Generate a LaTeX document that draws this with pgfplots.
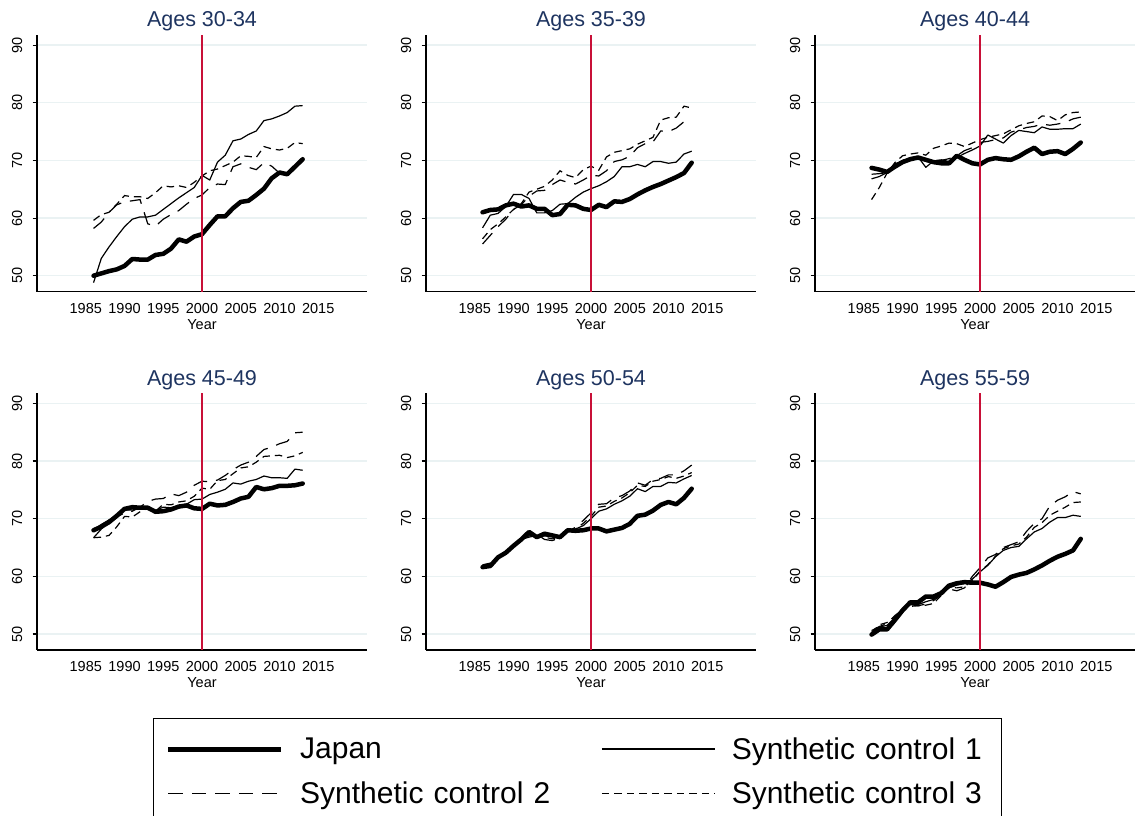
\documentclass[border=0pt]{standalone}
\usepackage{fontspec}
\setmainfont{Liberation Sans}
\usepackage{pgfplots}
\usepackage{pgfplotstable}
\pgfplotsset{compat=1.18}

\definecolor{gridc}{RGB}{234,242,243}
\definecolor{titlec}{RGB}{30,52,96}
\definecolor{redc}{RGB}{200,16,56}

% year, Japan, synthetic controls 1-3
\pgfplotstableread{
year jp sc1 sc2 sc3
1986 50.0 48.8 58.2 59.6
1987 50.4 53.0 59.3 60.6
1988 50.8 55.0 61.0 61.0
1989 51.1 56.8 62.3 62.4
1990 51.7 58.5 62.8 63.9
1991 52.9 59.8 63.0 63.7
1992 52.8 60.2 63.2 63.7
1993 52.8 60.2 59.0 63.4
1994 53.6 60.5 58.6 64.4
1995 53.8 61.5 59.8 65.6
1996 54.7 62.5 60.6 65.4
1997 56.3 63.5 61.3 65.6
1998 55.9 64.4 62.4 65.3
1999 56.8 65.3 63.4 66.2
2000 57.2 67.4 64.0 67.3
2001 58.8 66.6 65.3 68.2
2002 60.3 69.7 65.9 68.5
2003 60.3 70.9 65.8 69.1
2004 61.7 73.4 68.9 69.7
2005 62.8 73.7 69.4 70.8
2006 63.0 74.5 68.8 70.7
2007 64.0 75.1 68.4 70.5
2008 65.1 76.9 69.6 72.4
2009 66.9 77.2 69.0 72.0
2010 67.9 77.7 67.8 71.8
2011 67.6 78.3 67.6 72.1
2012 68.9 79.4 68.8 73.1
2013 70.2 79.5 70.0 72.9
}\tabA

\pgfplotstableread{
year jp sc1 sc2 sc3
1986 61.0 58.3 55.5 56.4
1987 61.4 60.5 57.0 58.0
1988 61.5 60.8 58.5 59.0
1989 62.2 62.0 59.8 60.2
1990 62.5 64.1 61.5 61.5
1991 62.0 64.1 62.3 62.5
1992 62.2 63.4 63.8 64.5
1993 61.6 60.9 64.7 65.0
1994 61.6 60.9 64.8 65.5
1995 60.5 61.3 65.8 66.6
1996 60.7 62.4 66.6 68.2
1997 62.3 62.5 66.2 67.4
1998 62.2 63.6 65.9 67.0
1999 61.6 64.5 66.6 68.4
2000 61.4 65.1 67.4 69.0
2001 62.3 65.6 67.3 68.3
2002 61.9 66.3 68.2 70.6
2003 62.9 67.2 69.8 71.4
2004 62.8 68.9 70.1 71.7
2005 63.3 68.9 70.7 72.0
2006 64.1 69.3 72.2 72.8
2007 64.8 68.9 72.9 73.4
2008 65.4 69.8 73.2 74.0
2009 65.9 69.8 75.1 77.0
2010 66.5 69.5 75.0 77.4
2011 67.1 69.7 75.6 77.5
2012 67.8 71.1 76.7 79.4
2013 69.6 71.6 76.4 79.1
}\tabB

\pgfplotstableread{
year jp sc1 sc2 sc3
1986 68.7 66.8 67.6 63.2
1987 68.4 67.2 67.7 65.3
1988 68.0 67.9 67.9 67.8
1989 68.9 69.4 69.2 69.6
1990 69.7 69.9 70.0 70.8
1991 70.2 70.5 70.5 71.1
1992 70.5 70.6 70.7 71.3
1993 70.1 68.8 70.2 70.9
1994 69.7 69.9 70.0 72.1
1995 69.5 70.1 70.0 72.5
1996 69.5 69.8 70.3 73.0
1997 70.8 70.5 70.8 72.9
1998 70.1 71.2 71.7 72.4
1999 69.5 71.8 72.2 73.0
2000 69.3 72.5 73.1 73.6
2001 70.1 74.4 73.3 74.0
2002 70.4 73.7 73.6 74.3
2003 70.2 73.0 73.9 74.6
2004 70.1 74.3 74.9 75.3
2005 70.7 75.2 75.3 76.0
2006 71.5 75.0 75.7 76.4
2007 72.2 74.8 75.9 76.7
2008 71.1 75.8 76.3 77.7
2009 71.5 75.4 76.1 77.6
2010 71.6 75.4 76.3 76.9
2011 71.1 75.5 76.6 77.9
2012 72.0 75.5 77.2 78.3
2013 73.1 76.3 77.5 78.4
}\tabC

\pgfplotstableread{
year jp sc1 sc2 sc3
1986 68.0 68.1 66.7 66.7
1987 68.6 69.0 68.2 66.8
1988 69.4 69.8 69.5 67.1
1989 70.5 70.5 70.3 68.6
1990 71.7 71.5 71.0 70.4
1991 72.0 71.5 71.3 70.3
1992 71.9 71.8 72.0 71.2
1993 71.9 71.8 73.0 71.8
1994 71.2 71.4 73.4 71.3
1995 71.3 72.0 73.5 72.5
1996 71.6 71.9 74.3 72.4
1997 72.1 72.2 74.0 72.9
1998 72.3 72.5 74.6 73.1
1999 71.8 73.3 75.8 73.9
2000 71.7 73.4 76.5 75.3
2001 72.6 74.2 76.4 75.1
2002 72.3 74.6 76.7 76.6
2003 72.4 75.1 77.5 76.8
2004 72.9 76.2 78.5 77.8
2005 73.5 76.0 79.3 78.8
2006 73.8 76.5 79.8 79.0
2007 75.5 76.8 80.8 79.8
2008 75.1 77.4 82.0 80.8
2009 75.3 77.1 82.4 80.9
2010 75.7 77.1 83.0 81.0
2011 75.7 77.0 83.4 80.6
2012 75.8 78.6 84.9 80.9
2013 76.1 78.4 85.0 81.5
}\tabD

\pgfplotstableread{
year jp sc1 sc2 sc3
1986 61.6 61.9 61.5 62.0
1987 61.8 62.2 62.0 62.3
1988 63.3 63.3 63.3 63.4
1989 64.1 64.3 64.3 64.2
1990 65.3 65.4 65.4 65.3
1991 66.4 66.4 66.5 66.6
1992 67.7 66.8 67.0 67.2
1993 66.8 67.1 67.3 67.0
1994 67.4 67.0 66.4 66.8
1995 67.1 66.9 66.2 66.5
1996 66.8 66.7 66.7 66.6
1997 68.0 67.9 67.8 67.7
1998 67.9 68.2 68.5 68.2
1999 68.0 68.8 69.7 69.2
2000 68.3 70.0 71.0 70.4
2001 68.3 71.3 72.5 72.0
2002 67.8 71.7 72.6 72.2
2003 68.1 72.5 73.6 73.0
2004 68.4 73.1 74.0 73.6
2005 69.1 73.9 74.8 74.5
2006 70.5 75.2 76.2 75.8
2007 70.7 74.7 75.8 75.6
2008 71.4 75.6 76.8 76.5
2009 72.4 75.6 77.0 76.8
2010 72.9 76.3 77.6 77.3
2011 72.5 76.2 77.6 77.0
2012 73.6 76.9 78.3 77.4
2013 75.2 77.5 79.3 78.0
}\tabE

\pgfplotstableread{
year jp sc1 sc2 sc3
1986 49.9 50.3 50.6 50.2
1987 50.8 51.2 51.3 51.6
1988 50.8 51.5 51.8 52.0
1989 52.4 52.8 53.2 53.0
1990 54.1 54.0 54.2 54.4
1991 55.5 55.2 55.1 54.8
1992 55.5 55.1 54.9 54.9
1993 56.5 55.6 55.2 55.0
1994 56.5 56.0 55.8 55.3
1995 57.1 57.0 56.8 56.7
1996 58.4 58.0 57.8 58.1
1997 58.8 58.5 57.5 58.0
1998 59.0 58.8 58.0 58.2
1999 58.9 59.5 60.0 59.3
2000 58.9 60.8 61.5 60.9
2001 58.6 61.9 63.2 62.0
2002 58.2 63.4 63.8 63.5
2003 59.0 64.5 65.0 64.8
2004 59.9 65.0 65.5 65.3
2005 60.3 65.2 66.0 65.6
2006 60.6 66.5 67.8 66.8
2007 61.2 67.7 69.2 68.5
2008 61.9 68.3 70.0 69.3
2009 62.7 69.4 72.2 70.6
2010 63.4 70.2 73.2 71.3
2011 63.9 70.2 73.8 72.0
2012 64.5 70.6 74.7 72.8
2013 66.5 70.4 74.3 72.9
}\tabF

\tikzset{
  jp/.style={black, line width=4.5pt, line join=round, line cap=round},
  sc1/.style={black, line width=1.2pt, line join=round},
  sc2/.style={black, line width=1.2pt, dash pattern=on 14.5pt off 9pt},
  sc3/.style={black, line width=1.2pt, dash pattern=on 7.5pt off 5pt},
}

\pgfplotsset{
  panel/.style={
    scale only axis, width=330pt, height=256.6pt,
    xmin=1978.7, xmax=2021.3, ymin=47.23, ymax=91.73,
    axis x line*=bottom, axis y line*=left,
    axis line style={-, black, line width=1.2pt},
    xtick={1985,1990,...,2015}, ytick={50,60,...,90},
    x tick style={draw=none}, y tick style={black, line width=1.1pt},
    tick align=outside, major tick length=4.5pt,
    ymajorgrids, major grid style={gridc, line width=1.4pt},
    tick label style={font=\fontsize{14.5}{16}\selectfont},
    /pgf/number format/assume math mode=true,
    /pgf/number format/1000 sep={},
    xticklabel style={anchor=north, inner sep=0pt},
    xticklabel shift=7pt,
    yticklabel style={rotate=90, anchor=south, inner sep=0pt},
    yticklabel shift=10pt,
    xlabel={Year},
    xlabel style={font=\fontsize{14.5}{17}\selectfont, at={(axis description cs:0.5,0)},
      anchor=base, inner sep=0pt, yshift=-37.8pt},
    title style={font=\fontsize{21.5}{25}\selectfont, color=titlec,
      at={(axis description cs:0.5,1)}, anchor=base, inner sep=0pt, yshift=2.3pt},
  },
}

\newcommand\panel[4]{%
  \begin{axis}[panel, at={#1}, anchor=south west, title={#2}, #4]
    \addplot[sc3] table[x=year, y=sc3] {#3};
    \addplot[sc2] table[x=year, y=sc2] {#3};
    \addplot[sc1] table[x=year, y=sc1] {#3};
    \addplot[jp] table[x=year, y=jp] {#3};
    \addplot[redc, line width=1.3pt] coordinates {(2000,47.23) (2000,91.73)};
  \end{axis}}

\begin{document}
\begin{tikzpicture}
\useasboundingbox (0,0) rectangle (1135pt,816pt);

\panel{(37pt,524.3pt)}{Ages 30-34}{\tabA}{}
\panel{(426pt,524.3pt)}{Ages 35-39}{\tabB}{}
\panel{(815pt,524.3pt)}{Ages 40-44}{\tabC}{width=320pt, xmax=2020.0}
\panel{(37pt,166pt)}{Ages 45-49}{\tabD}{}
\panel{(426pt,166pt)}{Ages 50-54}{\tabE}{}
\panel{(815pt,166pt)}{Ages 55-59}{\tabF}{width=320pt, xmax=2020.0}

% legend
\begin{axis}[at={(153pt,0pt)}, anchor=south west, scale only axis,
  width=847pt, height=98pt, hide axis, xmin=0, xmax=1, ymin=0, ymax=1,
  legend columns=2, legend cell align=left,
  legend image code/.code={\draw[#1] (0pt,0pt) -- (113pt,0pt);},
  legend style={at={(0,1)}, anchor=north west, draw=black, line width=1.3pt,
    fill=white, inner xsep=12pt, inner ysep=19pt, row sep=20.8pt,
    font=\fontsize{30}{36}\selectfont,
    /tikz/every odd column/.append style={column sep=16pt},
    /tikz/every even column/.append style={column sep=43pt},
    nodes={inner sep=0pt, text width=258pt, align=left, anchor=west}}]
  \addlegendimage{jp, line width=5.5pt, line cap=butt}\addlegendentry{Japan}
  \addlegendimage{sc1, line width=1.6pt}\addlegendentry{Synthetic control 1}
  \addlegendimage{sc2, line width=1.6pt}\addlegendentry{Synthetic control 2}
  \addlegendimage{sc3, line width=1.6pt}\addlegendentry{Synthetic control 3}
\end{axis}
\end{tikzpicture}
\end{document}
